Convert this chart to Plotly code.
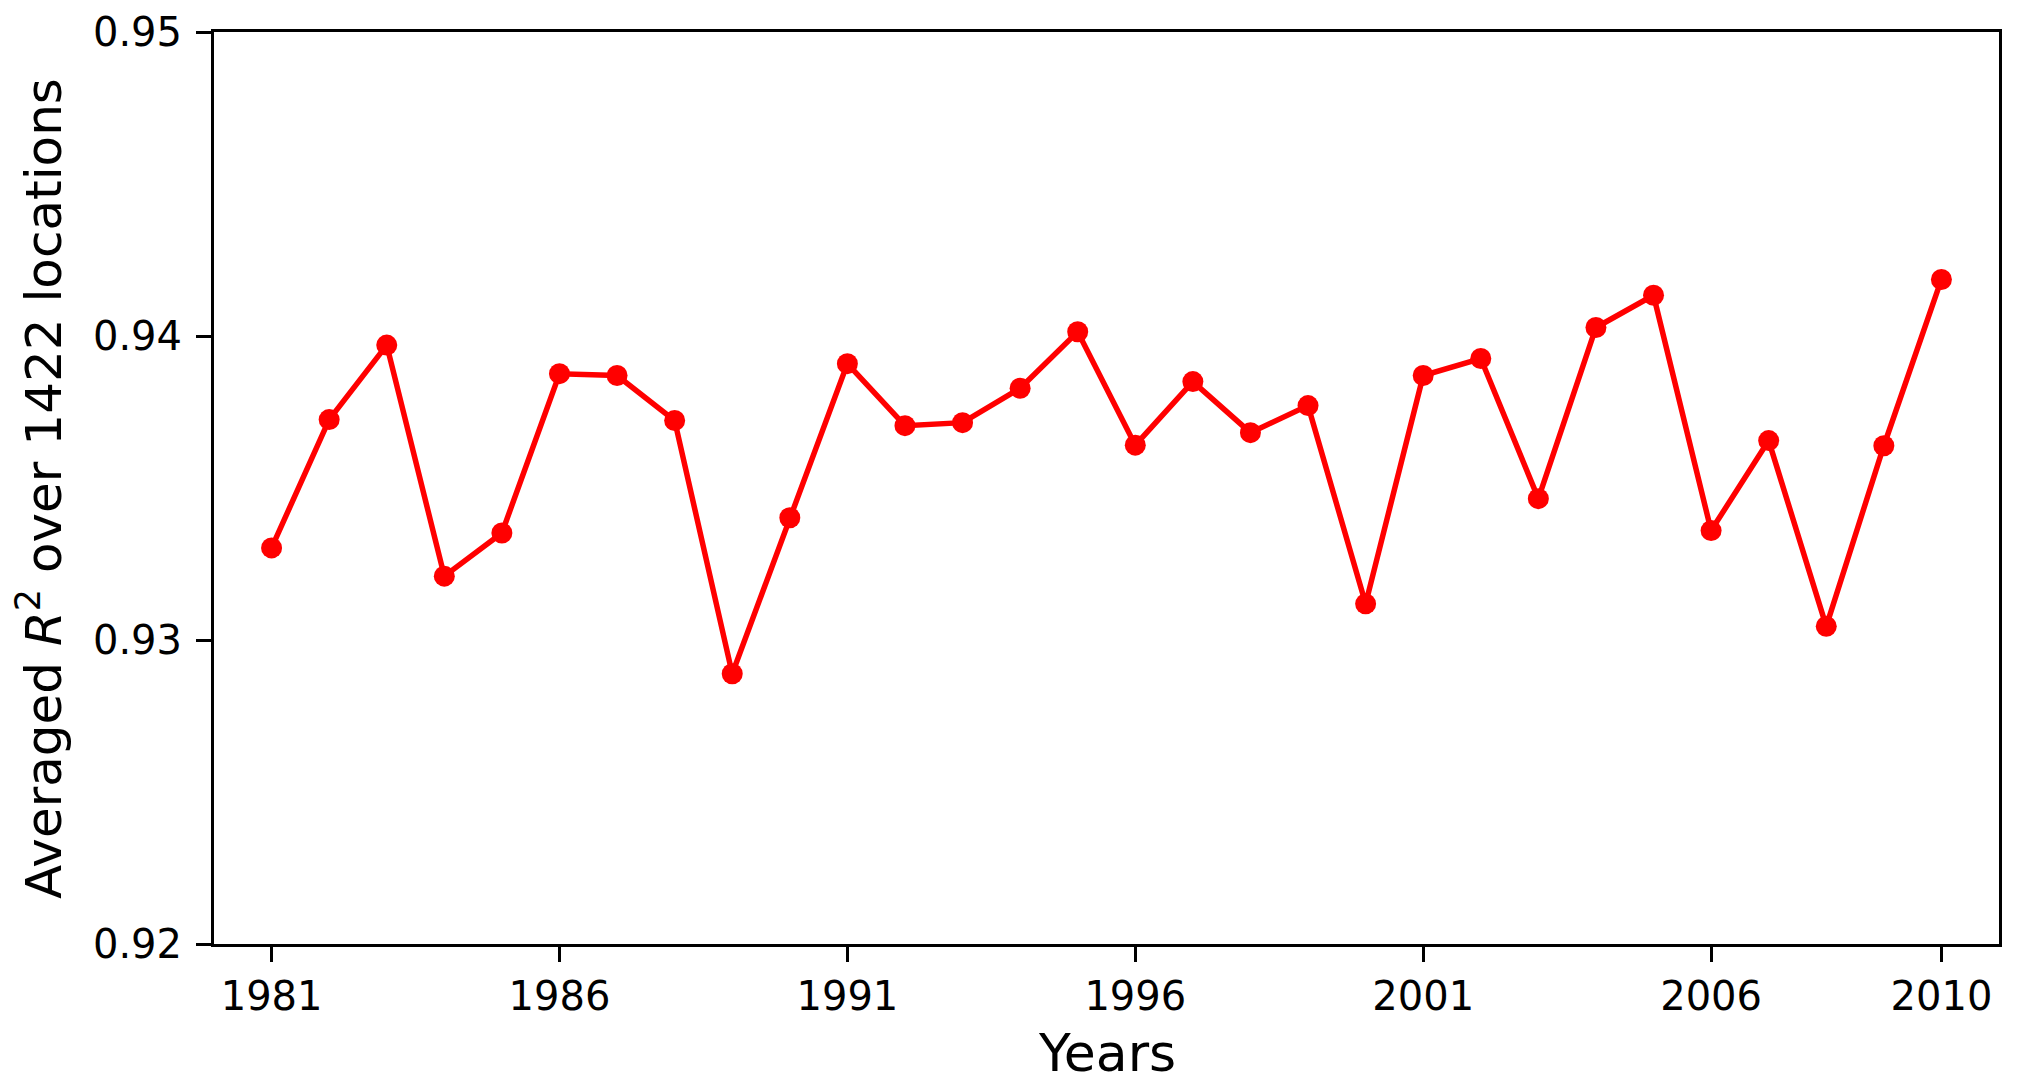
import plotly.graph_objects as go

# yearly averaged R^2 values
years = list(range(1981, 2011))
r2_avg = [0.93303, 0.93725, 0.93970, 0.93210, 0.93352, 0.93876, 0.93870, 0.93722,
          0.92889, 0.93402, 0.93909, 0.93705, 0.93715, 0.93828, 0.94014, 0.93641,
          0.93850, 0.93682, 0.93771, 0.93119, 0.93870, 0.93926, 0.93465, 0.94028,
          0.94134, 0.93360, 0.93656, 0.93045, 0.93639, 0.94186]

x_ticks = [1981, 1986, 1991, 1996, 2001, 2006, 2010]
y_ticks = [0.92, 0.93, 0.94, 0.95]
y_labels = ["0.92", "0.93", "0.94", "0.95"]

fig = go.Figure()
fig.add_trace(go.Scatter(x=years, y=r2_avg, mode='lines+markers',
                         line=dict(color='#ff0000', width=5.5),
                         marker=dict(color='#ff0000', size=21)))

# the page body adds an 8px margin, so the figure is 8px smaller than the window
fig.update_layout(width=2012, height=1082, showlegend=False,
                  plot_bgcolor='white', paper_bgcolor='white',
                  font=dict(family='DejaVu Sans', color='black', size=40),
                  margin=dict(l=206, r=21, t=24, b=146, autoexpand=False))

fig.update_xaxes(range=[1980, 2011], tickvals=x_ticks, ticks='outside', ticklen=15, tickwidth=3,
                 tickcolor='black', showline=True, linecolor='black', linewidth=3, mirror=True,
                 showgrid=False, zeroline=False, ticklabelstandoff=0, automargin=False)
fig.update_yaxes(range=[0.92, 0.95], tickvals=y_ticks, ticktext=y_labels, ticks='outside', ticklen=15,
                 tickwidth=3, tickcolor='black', showline=True, linecolor='black', linewidth=3,
                 mirror=True, showgrid=False, zeroline=False, ticklabelstandoff=6, automargin=False)

# axis titles
fig.add_annotation(text="Years", xref='paper', yref='paper', x=0.5, y=-0.12,
                   xanchor='center', yanchor='middle', showarrow=False, font=dict(size=52))
fig.add_annotation(text="Averaged <i>R</i><sup>2</sup> over 1422 locations", xref='paper', yref='paper',
                   x=-0.0975, y=0.5, xanchor='center', yanchor='middle', textangle=-90,
                   showarrow=False, font=dict(size=50))

fig.write_html("out.html")
